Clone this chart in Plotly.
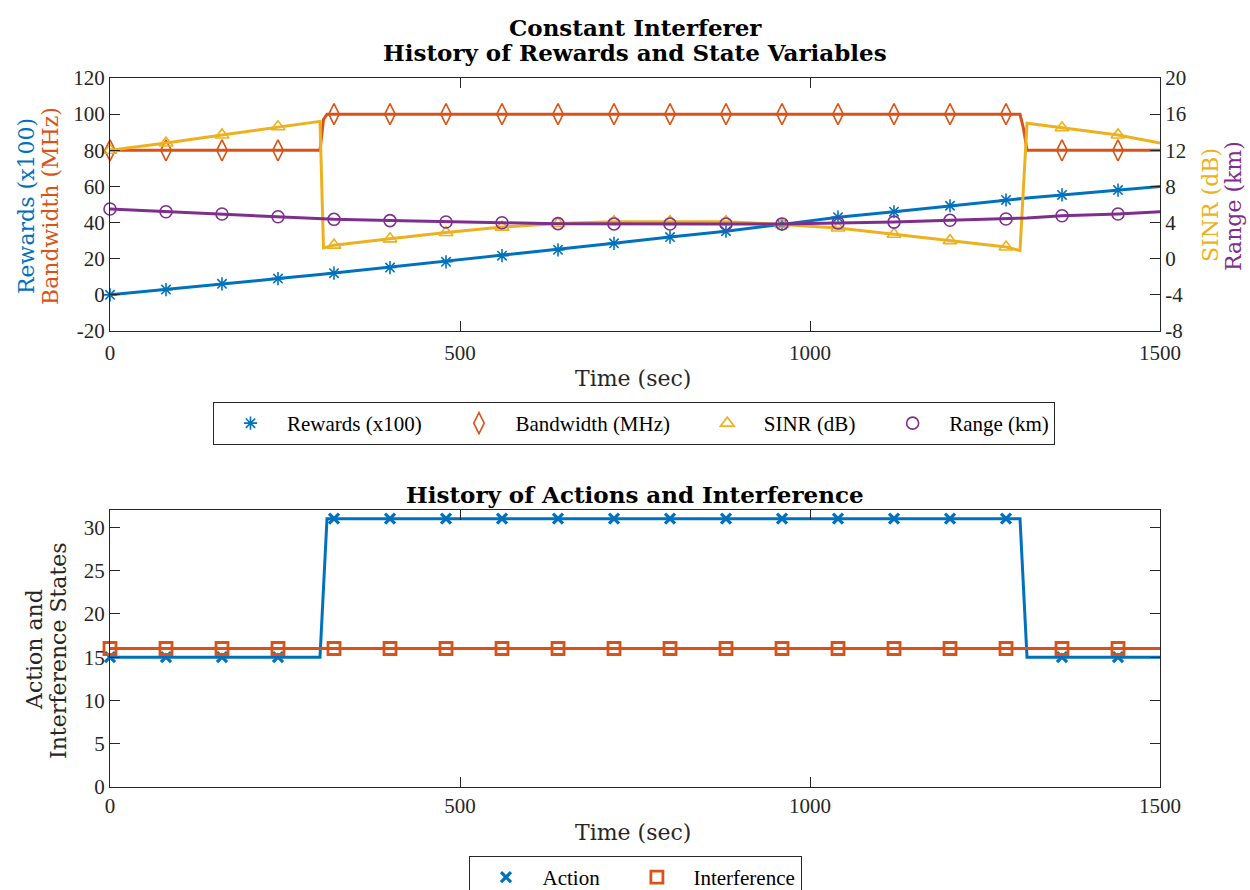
import plotly.graph_objects as go

# ---------------- data ----------------
time_s = [0, 80, 160, 240, 300, 305, 310, 320, 400, 480, 560, 640, 720, 800,
          880, 960, 1040, 1120, 1200, 1280, 1300, 1305, 1310, 1360, 1440, 1500]

rewards_x100 = [0, 2.9, 6.1, 9.0, 11.3, 11.5, 11.7, 12.0, 15.1, 18.3, 21.7, 24.9, 28.5,
                32.0, 35.2, 39.0, 43.0, 46.0, 49.3, 52.5, 53.2, 53.4, 53.6, 55.3, 58.0, 60.0]
bandwidth_mhz = [80, 80, 80, 80, 80, 97, 100, 100, 100, 100, 100, 100, 100,
                 100, 100, 100, 100, 100, 100, 100, 100, 92, 80, 80, 80, 80]
sinr_db = [12.0, 12.8, 13.7, 14.6, 15.2, 1.2, 1.3, 1.5, 2.2, 2.9, 3.5, 3.9, 4.1,
           4.1, 4.1, 3.8, 3.4, 2.7, 2.0, 1.3, 0.9, 8.0, 15.0, 14.5, 13.7, 12.8]
range_km = [5.5, 5.2, 4.95, 4.65, 4.45, 4.43, 4.4, 4.36, 4.22, 4.06, 3.98, 3.88, 3.85,
            3.84, 3.84, 3.85, 3.95, 4.05, 4.25, 4.4, 4.45, 4.47, 4.5, 4.75, 4.95, 5.2]
action = [15, 15, 15, 15, 15, 23, 31, 31, 31, 31, 31, 31, 31,
          31, 31, 31, 31, 31, 31, 31, 31, 23, 15, 15, 15, 15]
interference = [16, 16, 16, 16, 16, 16, 16, 16, 16, 16, 16, 16, 16,
                16, 16, 16, 16, 16, 16, 16, 16, 16, 16, 16, 16, 16]

marker_every = 80

x_ticks = [0, 500, 1000, 1500]
x_ticktext = ["0", "500", "1000", "1500"]
yl_ticks = [-20, 0, 20, 40, 60, 80, 100, 120]
yl_ticktext = ["-20", "0", "20", "40", "60", "80", "100", "120"]
yr_ticks = [-8, -4, 0, 4, 8, 12, 16, 20]
yr_ticktext = ["-8", "-4", "0", "4", "8", "12", "16", "20"]
yb_ticks = [0, 5, 10, 15, 20, 25, 30]
yb_ticktext = ["0", "5", "10", "15", "20", "25", "30"]

# ---------------- style ----------------
W, H = 1250, 890
BLUE, ORANGE, YELLOW, PURPLE = "#0072BD", "#D95319", "#EDB120", "#7E2F8E"
AX = "#262626"
TICKFONT = dict(family="Liberation Serif", size=21, color=AX)
LABELFONT = "DejaVu Serif"
TITLEFONT = dict(family="DejaVu Serif", size=23, color="#000000", weight="bold")
PAD = "\u00a0" * 3   # trailing gap between legend entries


def px(x):
    return x / W


def py(y):
    return 1 - y / H


mk_idx = [i for i, t in enumerate(time_s) if t % marker_every == 0 and t < 1500]


def pick(arr):
    return [arr[i] for i in mk_idx]


fig = go.Figure()

top_series = [
    ("Rewards (x100)", rewards_x100, BLUE, "asterisk-open", 11, "y"),
    ("Bandwidth (MHz)", bandwidth_mhz, ORANGE, "diamond-tall-open", 15, "y"),
    ("SINR (dB)", sinr_db, YELLOW, "triangle-up-open", 12, "y2"),
    ("Range (km)", range_km, PURPLE, "circle-open", 12, "y2"),
]
for k, (name, vals, col, sym, sz, yax) in enumerate(top_series):
    fig.add_trace(go.Scatter(x=time_s, y=vals, mode="lines", xaxis="x", yaxis=yax,
                             line=dict(color=col, width=3), showlegend=False,
                             hoverinfo="skip"))
    label = name + (PAD if k < len(top_series) - 1 else "")
    fig.add_trace(go.Scatter(x=pick(time_s), y=pick(vals), mode="markers", name=label,
                             xaxis="x", yaxis=yax, cliponaxis=False,
                             marker=dict(symbol=sym, size=sz, color=col,
                                         line=dict(color=col, width=1.6)),
                             legend="legend"))

bot_series = [
    ("Action", action, BLUE, "x-thin-open", 10, 3.2),
    ("Interference", interference, ORANGE, "square-open", 12, 2.8),
]
for k, (name, vals, col, sym, sz, lw) in enumerate(bot_series):
    fig.add_trace(go.Scatter(x=time_s, y=vals, mode="lines", xaxis="x2", yaxis="y3",
                             line=dict(color=col, width=3), showlegend=False,
                             hoverinfo="skip"))
    label = name + (PAD if k < len(bot_series) - 1 else "")
    fig.add_trace(go.Scatter(x=pick(time_s), y=pick(vals), mode="markers", name=label,
                             xaxis="x2", yaxis="y3", cliponaxis=False,
                             marker=dict(symbol=sym, size=sz, color=col,
                                         line=dict(color=col, width=lw)),
                             legend="legend2"))

x_dom = [px(110), px(1160)]
common_axis = dict(showgrid=False, zeroline=False, showline=True, linecolor=AX,
                   linewidth=1, ticks="inside", ticklen=10, tickcolor=AX, tickwidth=1,
                   tickfont=TICKFONT, automargin=False)

legend_common = dict(orientation="h", yanchor="top", xanchor="center",
                     bordercolor=AX, borderwidth=1, bgcolor="white",
                     font=dict(family="Liberation Serif", size=21, color="#000000"),
                     itemsizing="trace", itemwidth=63)

fig.update_layout(
    width=W, height=H, margin=dict(l=0, r=0, t=0, b=0, autoexpand=False),
    paper_bgcolor="white", plot_bgcolor="white",
    xaxis=dict(domain=x_dom, anchor="y", range=[0, 1500], tickvals=x_ticks,
               ticktext=x_ticktext, mirror="ticks", ticklabelstandoff=3, **common_axis),
    yaxis=dict(domain=[py(331), py(78)], anchor="x", range=[-20, 120],
               tickvals=yl_ticks, ticktext=yl_ticktext, mirror=False, **common_axis),
    yaxis2=dict(overlaying="y", side="right", anchor="x", range=[-8, 20],
                tickvals=yr_ticks, ticktext=yr_ticktext, **common_axis),
    xaxis2=dict(domain=x_dom, anchor="y3", range=[0, 1500], tickvals=x_ticks,
                ticktext=x_ticktext, mirror="ticks", **common_axis),
    yaxis3=dict(domain=[py(787), py(510)], anchor="x2", range=[0, 32],
                tickvals=yb_ticks, ticktext=yb_ticktext, mirror="ticks", **common_axis),
    legend=dict(x=px(634), y=py(402), **legend_common),
    legend2=dict(x=px(635), y=py(856), **legend_common),
    showlegend=True,
)

ann = []


def add_text(text, x, y, font, angle=0):
    ann.append(dict(text=text, x=px(x), y=py(y), xref="paper", yref="paper",
                    showarrow=False, xanchor="center", yanchor="middle",
                    textangle=angle, font=font))


add_text("Constant Interferer", 635, 27, TITLEFONT)
add_text("History of Rewards and State Variables", 635, 52, TITLEFONT)
add_text("History of Actions and Interference", 635, 494, TITLEFONT)
add_text("Time (sec)", 633, 378, dict(family=LABELFONT, size=22, color=AX))
add_text("Time (sec)", 633, 832, dict(family=LABELFONT, size=22, color=AX))
add_text("Rewards (x100)", 27, 206, dict(family=LABELFONT, size=22, color=BLUE), -90)
add_text("Bandwidth (MHz)", 51, 206, dict(family=LABELFONT, size=22, color=ORANGE), -90)
add_text("SINR (dB)", 1210, 205, dict(family=LABELFONT, size=22, color=YELLOW), -90)
add_text("Range (km)", 1234, 206, dict(family=LABELFONT, size=22, color=PURPLE), -90)
add_text("Action and", 34, 650, dict(family=LABELFONT, size=22, color=AX), -90)
add_text("Interference States", 58, 650, dict(family=LABELFONT, size=22, color=AX), -90)

fig.update_layout(annotations=ann)

fig.write_html("out.html")
